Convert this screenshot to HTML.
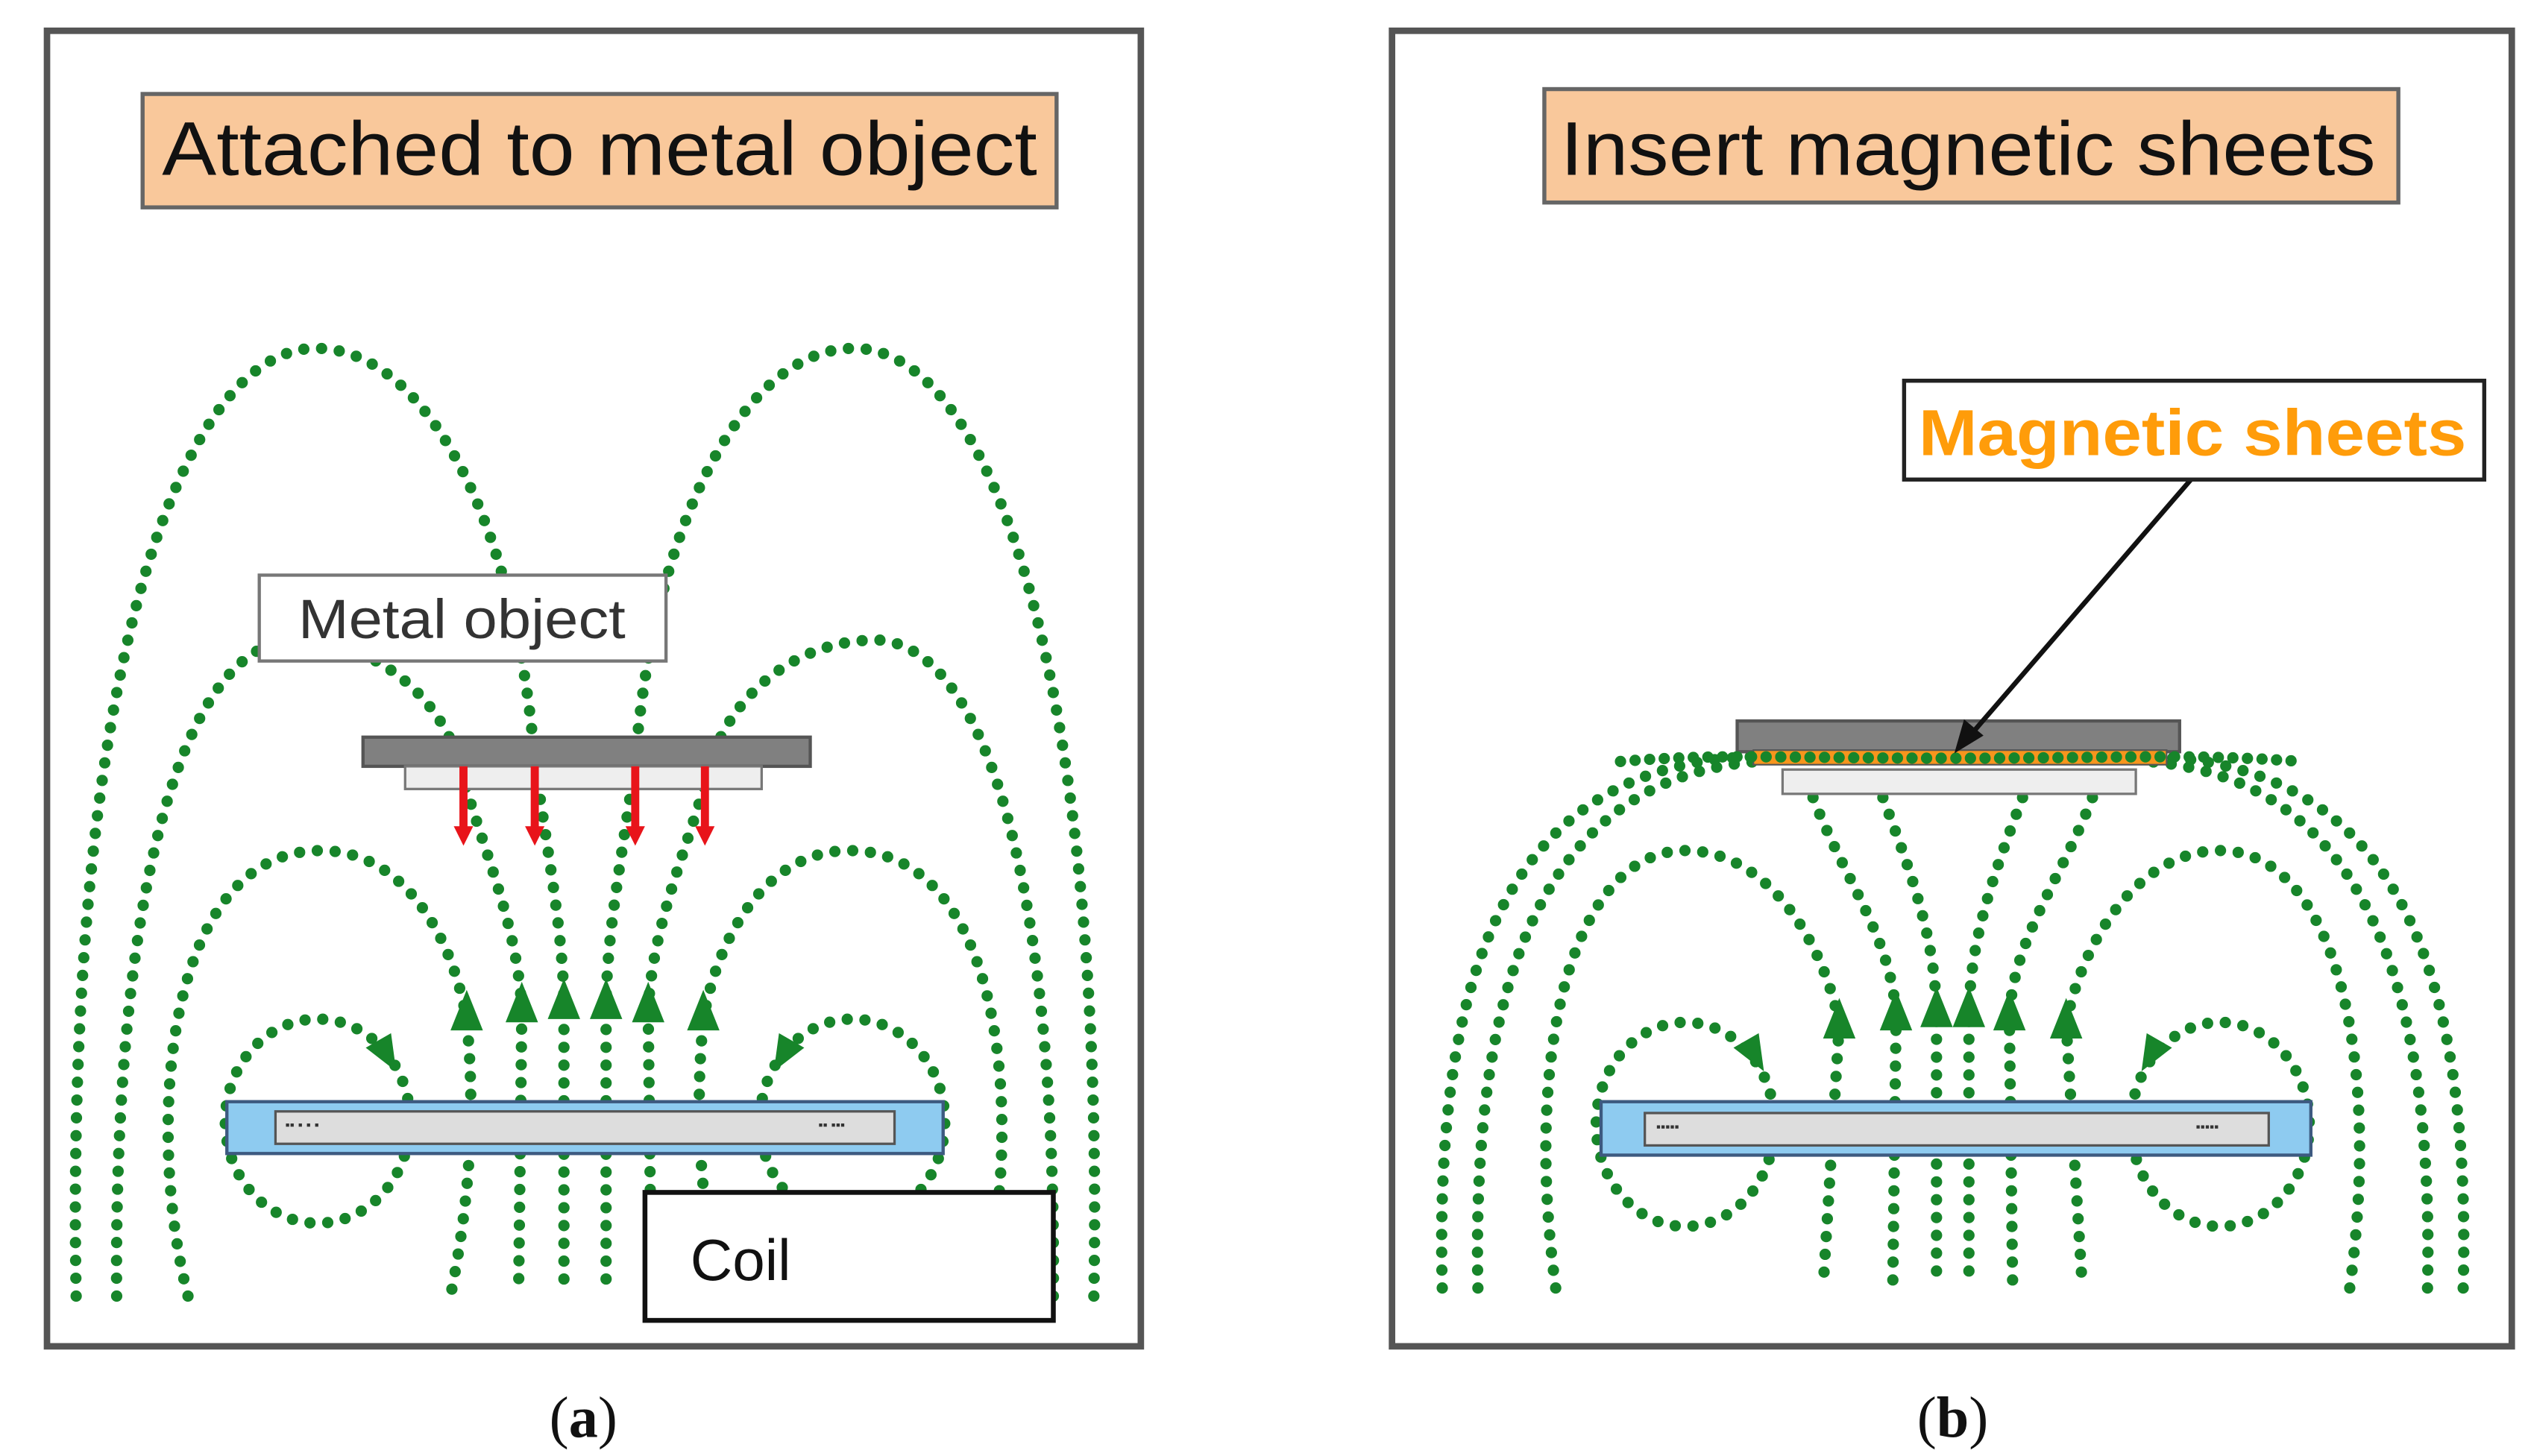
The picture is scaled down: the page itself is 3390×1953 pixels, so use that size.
<!DOCTYPE html>
<html><head><meta charset="utf-8"><style>
html,body{margin:0;padding:0;background:#fff;}
svg{display:block;}
</style></head><body>
<svg width="3390" height="1953" viewBox="0 0 1560 898.7" preserveAspectRatio="none" xmlns="http://www.w3.org/2000/svg">
<defs>
<style>
.f{fill:none;stroke:#17852a;stroke-width:7;stroke-linecap:round;stroke-dasharray:0 11;}
.ah{fill:#17852a;}
</style>
<g id="ahd"><polygon class="ah" points="0,-14 10,11 -10,11"/></g>
</defs>
<rect width="1560" height="899" fill="#fff"/>

<!-- Panel a -->
<rect x="29" y="19" width="675" height="812" fill="#fff" stroke="#555" stroke-width="4"/>
<rect x="88" y="58" width="564" height="70" fill="#f9c89b" stroke="#666" stroke-width="2.5"/>
<text x="100" y="108" font-family="Liberation Sans, sans-serif" font-size="47" fill="#111" textLength="540" lengthAdjust="spacingAndGlyphs">Attached to metal object</text>

<g id="halfA">
<path class="f" d="M47,800 C40,420 110,215 195,215 C262,215 318,320 330,470 C340,540 348,580 348,625 L348,800"/>
<path class="f" d="M72,800 C70,560 110,400 180,395 C240,395 275,440 283,470 C296,520 320,570 322,625 L320,800"/>
<path class="f" d="M116,800 C90,700 100,525 198,525 C250,525 280,580 288,630 C295,700 286,760 278,800"/>
<ellipse class="f" cx="196" cy="692" rx="57" ry="63"/>
<use href="#ahd" x="288" y="625"/>
<use href="#ahd" x="322" y="620"/>
<use href="#ahd" x="348" y="618"/>
<g transform="translate(238,650) rotate(150)"><polygon class="ah" points="0,-13 9,9 -9,9"/></g>
</g>
<use href="#halfA" transform="translate(722,0) scale(-1,1)"/>

<rect x="160" y="355" width="251" height="53" fill="#fff" stroke="#777" stroke-width="2"/>
<text x="184" y="394" font-family="Liberation Sans, sans-serif" font-size="34" fill="#333" textLength="202" lengthAdjust="spacingAndGlyphs">Metal object</text>

<rect x="224" y="455" width="276" height="18" fill="#808080" stroke="#555" stroke-width="2"/>
<rect x="250" y="473" width="220" height="14" fill="#eee" stroke="#777" stroke-width="1.5"/>
<g stroke="#e8141a" stroke-width="5" fill="#e8141a">
<line x1="286" y1="473" x2="286" y2="512"/><polygon points="280,510 292,510 286,522" stroke="none"/>
<line x1="330" y1="473" x2="330" y2="512"/><polygon points="324,510 336,510 330,522" stroke="none"/>
<line x1="392" y1="473" x2="392" y2="512"/><polygon points="386,510 398,510 392,522" stroke="none"/>
<line x1="435" y1="473" x2="435" y2="512"/><polygon points="429,510 441,510 435,522" stroke="none"/>
</g>

<rect x="140" y="680" width="442" height="32" fill="#8ecbf0" stroke="#3d5a80" stroke-width="2"/>
<rect x="170" y="686" width="382" height="20" fill="#ddd" stroke="#555" stroke-width="1.5"/>
<text x="176" y="697" font-family="Liberation Sans, sans-serif" font-size="8" fill="#333">▪▪ ▪ ▪ ▪</text>
<text x="505" y="697" font-family="Liberation Sans, sans-serif" font-size="8" fill="#333">▪▪ ▪▪▪</text>

<rect x="398" y="736" width="252" height="79" fill="#fff" stroke="#111" stroke-width="3"/>
<text x="426" y="790" font-family="Liberation Sans, sans-serif" font-size="36" fill="#111">Coil</text>

<text x="360" y="887" text-anchor="middle" font-family="Liberation Serif, serif" font-size="36" fill="#111">(<tspan font-weight="bold">a</tspan>)</text>

<!-- Panel b -->
<rect x="859" y="19" width="691" height="812" fill="#fff" stroke="#555" stroke-width="4"/>
<rect x="953" y="55" width="527" height="70" fill="#f9c89b" stroke="#666" stroke-width="2.5"/>
<text x="963" y="108" font-family="Liberation Sans, sans-serif" font-size="47" fill="#111" textLength="503" lengthAdjust="spacingAndGlyphs">Insert magnetic sheets</text>

<g id="halfB">
<path class="f" d="M890,795 C885,600 930,470 1085,467"/>
<path class="f" d="M912,795 C908,610 950,480 1085,470"/>
<path class="f" d="M960,795 C940,650 970,525 1040,525 C1090,525 1125,580 1135,632 L1125,795"/>
<path class="f" d="M1115,482 C1135,540 1170,580 1170,632 L1168,795"/>
<path class="f" d="M1158,482 C1180,540 1195,580 1195,630 L1195,795"/>
<ellipse class="f" cx="1040" cy="694" rx="55" ry="63"/>
<use href="#ahd" x="1135" y="630"/>
<use href="#ahd" x="1170" y="625"/>
<use href="#ahd" x="1195" y="623"/>
<g transform="translate(1082,650) rotate(150)"><polygon class="ah" points="0,-13 9,9 -9,9"/></g>
</g>
<use href="#halfB" transform="translate(2410,0) scale(-1,1)"/>

<rect x="1072" y="445" width="273" height="19" fill="#808080" stroke="#555" stroke-width="2"/>
<rect x="1082" y="463" width="255" height="9" fill="#f7951d" stroke="#555" stroke-width="1"/>
<rect x="1100" y="475" width="218" height="15" fill="#eee" stroke="#777" stroke-width="1.5"/>
<path class="f" d="M1000,470 C1060,465 1100,468 1205,468 C1310,468 1350,465 1420,470" style="stroke-dasharray:0 9"/>

<rect x="988" y="680" width="438" height="33" fill="#8ecbf0" stroke="#3d5a80" stroke-width="2"/>
<rect x="1015" y="687" width="385" height="20" fill="#ddd" stroke="#555" stroke-width="1.5"/>
<text x="1022" y="698" font-family="Liberation Sans, sans-serif" font-size="8" fill="#333">▪▪▪▪▪</text>
<text x="1355" y="698" font-family="Liberation Sans, sans-serif" font-size="8" fill="#333">▪▪▪▪▪</text>

<line x1="1352" y1="296" x2="1214" y2="456" stroke="#111" stroke-width="3"/>
<polygon points="1206,465 1212,444 1224,454" fill="#111"/>
<rect x="1175" y="235" width="358" height="61" fill="#fff" stroke="#222" stroke-width="2.5"/>
<text x="1184" y="281" font-family="Liberation Sans, sans-serif" font-size="40" font-weight="bold" fill="#ff9c0a" textLength="338" lengthAdjust="spacingAndGlyphs">Magnetic sheets</text>

<text x="1205" y="887" text-anchor="middle" font-family="Liberation Serif, serif" font-size="36" fill="#111">(<tspan font-weight="bold">b</tspan>)</text>
</svg>
</body></html>
